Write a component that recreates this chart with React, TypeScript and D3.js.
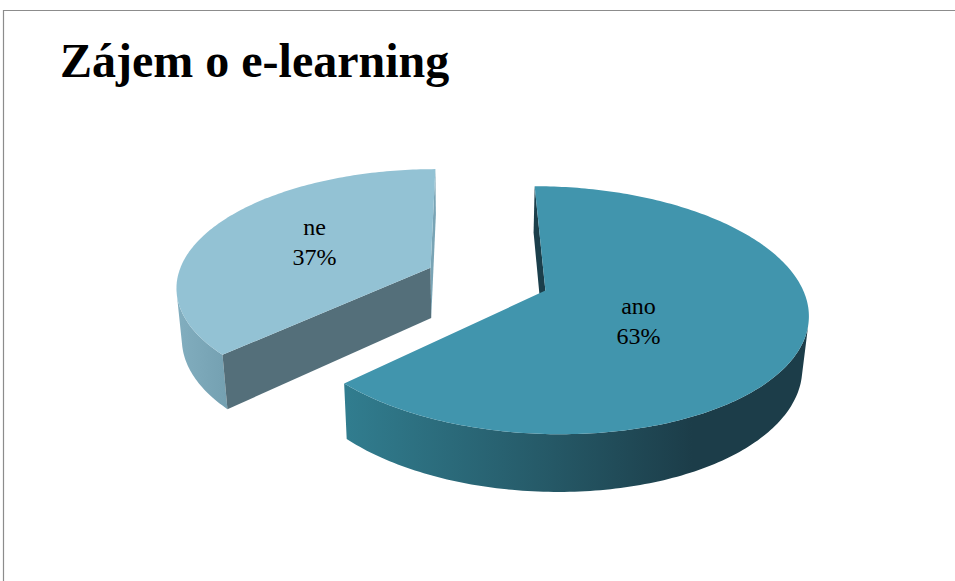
import React from "react";
import * as d3 from "d3";

// ---- data ----
const categories = ["ano", "ne"];
const values = [63, 37];
const percentLabels = ["63%", "37%"];
const title = "Zájem o e-learning";

// ---- styles ----
const W = 955;
const H = 581;
const topColors = ["#4195AD", "#93C2D4"];
const startFaceColors = ["#1B3F4B", "#546F7A"];
const endFaceColors = ["#1B3F4B", "#79A4B5"];
const sideStops = [
  [
    [0, "#317D8F"],
    [0.45, "#255866"],
    [0.75, "#1C3D49"],
    [1, "#1C3D49"],
  ],
  [
    [0, "#82AEBF"],
    [1, "#74A0B1"],
  ],
];

// ---- 3D projection setup ----
const R = 1;
const D = 5.69;
const phi = (27.5 * Math.PI) / 180;
const sinp = Math.sin(phi);
const cosp = Math.cos(phi);
const F = 1445;
const Xc = -0.08;
const S = 466.8;
const SY = 279.0;
const T = 0.23; // thickness
const explode = 0.245;
const minLabelRadius = 0.38;
const labelSink = 0.7;

function proj(X: number, Y: number, Z: number): [number, number] {
  const relX = X - Xc;
  const relY = Y - D * sinp;
  const relZ = Z + D * cosp;
  const depth = -relY * sinp + relZ * cosp;
  const up = relY * cosp + relZ * sinp;
  return [S + (F * relX) / depth, SY - (F * up) / depth];
}

const line = d3.line<[number, number]>();

export default function App() {
  const arcs = d3
    .pie<number>()
    .sort(null)
    .startAngle(0)
    .endAngle(2 * Math.PI)(values);

  const slices = arcs.map((a, i) => {
    const a0 = a.startAngle;
    const a1 = a.endAngle;
    const mid = (a0 + a1) / 2;
    const cx = explode * Math.sin(mid);
    const cz = explode * Math.cos(mid);
    const rim = (t: number, y: number) =>
      proj(cx + R * Math.sin(t), y, cz + R * Math.cos(t));
    const n = Math.max(2, Math.ceil(((a1 - a0) * 180) / Math.PI));
    const ts = d3.range(n + 1).map((k) => a0 + ((a1 - a0) * k) / n);

    // top face
    const cTop = proj(cx, 0, cz);
    const cBot = proj(cx, -T, cz);
    const topPts: [number, number][] = [cTop, ...ts.map((t) => rim(t, 0))];
    const topPath = line(topPts) + "Z";

    // visible outer side runs
    const vis = (t: number) =>
      (Xc - cx) * Math.sin(t) + (-D * cosp - cz) * Math.cos(t) - R > 0;
    const runs: number[][] = [];
    let cur: number[] = [];
    ts.forEach((t) => {
      if (vis(t)) cur.push(t);
      else if (cur.length) {
        runs.push(cur);
        cur = [];
      }
    });
    if (cur.length) runs.push(cur);
    const sides = runs
      .filter((r) => r.length > 1)
      .map((r) => {
        const tp = r.map((t) => rim(t, 0));
        const bp = r.map((t) => rim(t, -T)).reverse();
        const xs = [...tp, ...bp].map((p) => p[0]);
        return {
          d: line([...tp, ...bp]) + "Z",
          x0: d3.min(xs) as number,
          x1: d3.max(xs) as number,
        };
      });

    // cut faces
    const faces: { d: string; fill: string }[] = [];
    const nS = [-Math.cos(a0), Math.sin(a0)];
    if ((Xc - cx) * nS[0] + (-D * cosp - cz) * nS[1] > 0) {
      faces.push({
        d: line([cTop, rim(a0, 0), rim(a0, -T), cBot]) + "Z",
        fill: startFaceColors[i],
      });
    }
    const nE = [Math.cos(a1), -Math.sin(a1)];
    if ((Xc - cx) * nE[0] + (-D * cosp - cz) * nE[1] > 0) {
      faces.push({
        d: line([cTop, rim(a1, 0), rim(a1, -T), cBot]) + "Z",
        fill: endFaceColors[i],
      });
    }

    // label: sector centroid, sinking slightly for front-facing slices
    const alpha = (a1 - a0) / 2;
    const rc = Math.max(minLabelRadius, (2 * Math.sin(alpha)) / (3 * alpha));
    const ly = -labelSink * T * Math.max(0, -Math.cos(mid));
    const lp = proj(
      cx + rc * R * Math.sin(mid),
      ly,
      cz + rc * R * Math.cos(mid)
    );
    const depth = D + cz * cosp;
    return { i, topPath, sides, faces, lp, depth };
  });

  const order = [...slices].sort((a, b) => b.depth - a.depth);
  const serif = "'Liberation Serif', 'Times New Roman', serif";

  return (
    <svg
      width={W}
      height={H}
      style={{ position: "absolute", left: 0, top: 0, background: "#fff" }}
    >
      <defs>
        {slices.map((s) =>
          s.sides.map((sd, j) => (
            <linearGradient
              key={`g${s.i}-${j}`}
              id={`side${s.i}-${j}`}
              gradientUnits="userSpaceOnUse"
              x1={sd.x0}
              x2={sd.x1}
              y1={0}
              y2={0}
            >
              {sideStops[s.i].map(([o, c]) => (
                <stop key={String(o)} offset={o as number} stopColor={c as string} />
              ))}
            </linearGradient>
          ))
        )}
      </defs>
      <rect x={0} y={0} width={W} height={H} fill="#fff" />
      <path d={`M3.5,${H} V10.5 H${W}`} fill="none" stroke="#8C8C8C" strokeWidth={1.2} />
      <text
        x={60}
        y={77}
        fontFamily={serif}
        fontWeight="bold"
        fontSize={48}
        fill="#000"
      >
        {title}
      </text>
      {order.map((s) => (
        <g key={s.i}>
          {s.sides.map((sd, j) => (
            <path key={j} d={sd.d} fill={`url(#side${s.i}-${j})`} />
          ))}
          {s.faces.map((f, j) => (
            <path key={j} d={f.d} fill={f.fill} />
          ))}
          <path d={s.topPath} fill={topColors[s.i]} />
        </g>
      ))}
      {slices.map((s) => (
        <text
          key={`l${s.i}`}
          x={s.lp[0]}
          y={s.lp[1]}
          textAnchor="middle"
          fontFamily={serif}
          fontSize={24}
          fill="#000"
        >
          <tspan x={s.lp[0]} dy={-10}>
            {categories[s.i]}
          </tspan>
          <tspan x={s.lp[0]} dy={30}>
            {percentLabels[s.i]}
          </tspan>
        </text>
      ))}
    </svg>
  );
}
